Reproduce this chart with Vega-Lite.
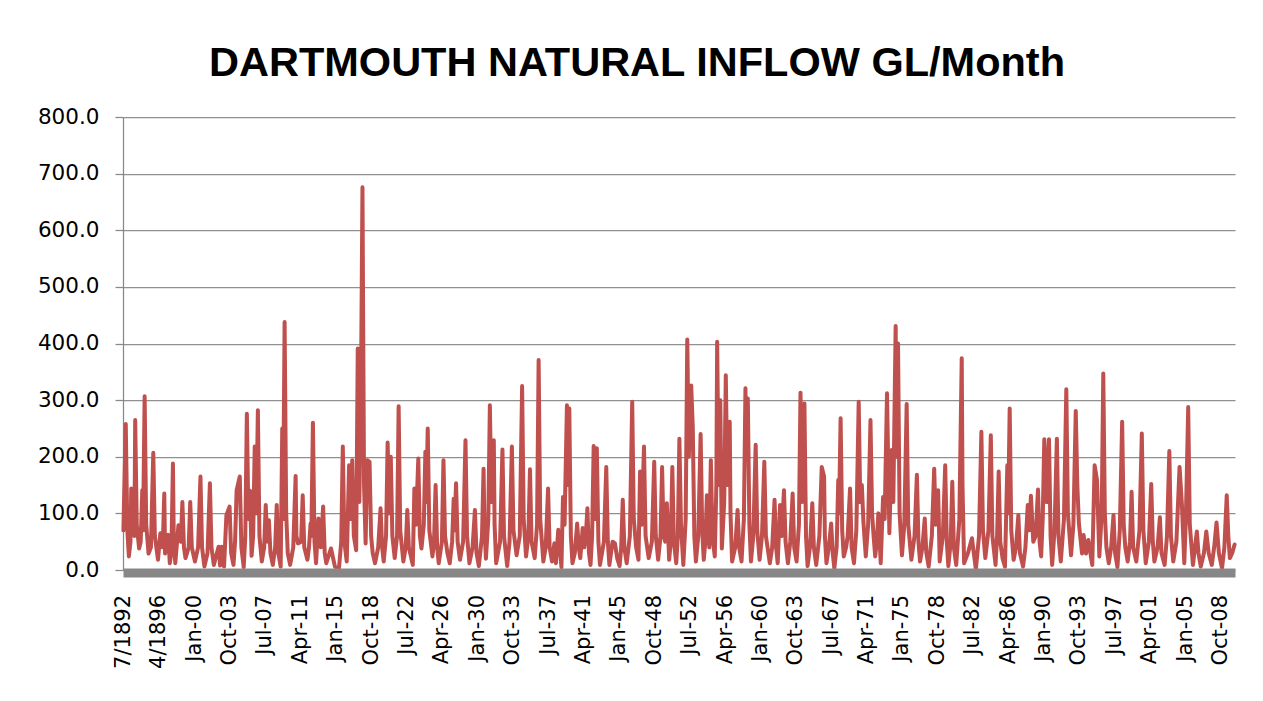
{
 "$schema": "https://vega.github.io/schema/vega-lite/v6.json",
 "width": 1112,
 "height": 453,
 "autosize": {"type": "none"},
 "padding": {"left": 123, "top": 117, "right": 28, "bottom": 131},
 "background": "white",
 "title": {"text": "DARTMOUTH NATURAL INFLOW GL/Month", "font": "Liberation Sans", "fontSize": 41.5, "fontWeight": "bold", "color": "black", "anchor": "middle", "frame": "bounds", "baseline": "alphabetic", "offset": 30, "dy": 41},
 "data": {"values": [
{"m":0,"v":70},{"m":3,"v":258},{"m":5,"v":70},{"m":7,"v":24},{"m":9,"v":50},{"m":10,"v":144},{"m":12,"v":76},{"m":14,"v":60},{"m":15,"v":265},{"m":17,"v":80},{"m":20,"v":38},{"m":22,"v":50},{"m":24,"v":141},{"m":25,"v":70},{"m":27,"v":307},{"m":29,"v":80},{"m":32,"v":29},{"m":35,"v":40},{"m":38,"v":207},{"m":40,"v":60},{"m":44,"v":18},{"m":47,"v":65},{"m":50,"v":40},{"m":52,"v":135},{"m":53,"v":29},{"m":57,"v":62},{"m":59,"v":12},{"m":61,"v":30},{"m":63,"v":188},{"m":64,"v":60},{"m":66,"v":12},{"m":70,"v":79},{"m":73,"v":50},{"m":75,"v":120},{"m":77,"v":40},{"m":79,"v":21},{"m":83,"v":40},{"m":85,"v":120},{"m":87,"v":40},{"m":91,"v":15},{"m":95,"v":40},{"m":98,"v":165},{"m":100,"v":40},{"m":103,"v":6},{"m":107,"v":30},{"m":110,"v":153},{"m":112,"v":40},{"m":115,"v":9},{"m":121,"v":41},{"m":123,"v":8},{"m":125,"v":41},{"m":128,"v":6},{"m":131,"v":97},{"m":135,"v":112},{"m":137,"v":30},{"m":140,"v":9},{"m":142,"v":50},{"m":144,"v":141},{"m":148,"v":165},{"m":150,"v":40},{"m":153,"v":5},{"m":155,"v":60},{"m":157,"v":276},{"m":159,"v":90},{"m":161,"v":140},{"m":163,"v":25},{"m":165,"v":60},{"m":167,"v":218},{"m":169,"v":100},{"m":171,"v":282},{"m":173,"v":60},{"m":176,"v":15},
{"m":179,"v":40},{"m":181,"v":115},{"m":183,"v":50},{"m":185,"v":88},{"m":187,"v":30},{"m":190,"v":9},{"m":193,"v":40},{"m":195,"v":115},{"m":197,"v":30},{"m":200,"v":6},{"m":202,"v":250},{"m":203,"v":90},{"m":205,"v":438},{"m":207,"v":100},{"m":209,"v":30},{"m":212,"v":9},{"m":216,"v":40},{"m":219,"v":166},{"m":220,"v":60},{"m":222,"v":47},{"m":226,"v":50},{"m":228,"v":132},{"m":230,"v":40},{"m":234,"v":18},{"m":236,"v":40},{"m":238,"v":82},{"m":239,"v":60},{"m":241,"v":260},{"m":243,"v":50},{"m":245,"v":12},{"m":248,"v":91},{"m":251,"v":40},{"m":254,"v":112},{"m":256,"v":30},{"m":258,"v":12},{"m":264,"v":38},{"m":269,"v":6},{"m":274,"v":1},{"m":277,"v":50},{"m":279,"v":218},{"m":281,"v":50},{"m":284,"v":15},{"m":287,"v":185},{"m":289,"v":90},{"m":291,"v":194},{"m":293,"v":60},{"m":296,"v":35},{"m":298,"v":391},{"m":300,"v":120},{"m":302,"v":300},{"m":304,"v":676},{"m":306,"v":150},{"m":308,"v":47},{"m":310,"v":194},{"m":313,"v":191},{"m":315,"v":60},{"m":317,"v":30},{"m":320,"v":12},{"m":324,"v":40},{"m":327,"v":109},{"m":329,"v":40},{"m":331,"v":15},{"m":334,"v":60},{"m":336,"v":225},{"m":338,"v":100},{"m":340,"v":200},{"m":342,"v":60},{"m":345,"v":21},{"m":348,"v":60},{"m":350,"v":289},{"m":352,"v":70},{"m":356,"v":15},
{"m":359,"v":40},{"m":361,"v":106},{"m":363,"v":40},{"m":368,"v":9},{"m":370,"v":144},{"m":372,"v":80},{"m":375,"v":197},{"m":377,"v":60},{"m":379,"v":38},{"m":382,"v":80},{"m":384,"v":209},{"m":385,"v":120},{"m":387,"v":250},{"m":389,"v":70},{"m":393,"v":24},{"m":395,"v":50},{"m":397,"v":150},{"m":399,"v":40},{"m":401,"v":12},{"m":405,"v":50},{"m":407,"v":194},{"m":409,"v":60},{"m":412,"v":30},{"m":415,"v":12},{"m":418,"v":50},{"m":420,"v":126},{"m":421,"v":70},{"m":423,"v":153},{"m":425,"v":50},{"m":428,"v":18},{"m":432,"v":50},{"m":435,"v":229},{"m":437,"v":60},{"m":440,"v":12},{"m":444,"v":40},{"m":447,"v":106},{"m":449,"v":30},{"m":452,"v":7},{"m":456,"v":60},{"m":458,"v":179},{"m":459,"v":80},{"m":461,"v":20},{"m":464,"v":90},{"m":466,"v":291},{"m":468,"v":120},{"m":471,"v":229},{"m":472,"v":80},{"m":474,"v":12},{"m":479,"v":50},{"m":482,"v":213},{"m":484,"v":60},{"m":488,"v":7},{"m":491,"v":50},{"m":494,"v":218},{"m":496,"v":70},{"m":500,"v":26},{"m":504,"v":60},{"m":507,"v":325},{"m":509,"v":90},{"m":512,"v":24},{"m":515,"v":60},{"m":517,"v":178},{"m":519,"v":50},{"m":523,"v":21},{"m":526,"v":80},{"m":528,"v":371},{"m":530,"v":90},{"m":534,"v":15},
{"m":537,"v":40},{"m":540,"v":144},{"m":542,"v":40},{"m":545,"v":15},{"m":548,"v":47},{"m":550,"v":12},{"m":553,"v":71},{"m":557,"v":5},{"m":559,"v":129},{"m":561,"v":80},{"m":564,"v":291},{"m":565,"v":150},{"m":567,"v":285},{"m":569,"v":60},{"m":571,"v":12},{"m":574,"v":30},{"m":577,"v":82},{"m":579,"v":40},{"m":581,"v":21},{"m":584,"v":74},{"m":586,"v":40},{"m":588,"v":60},{"m":590,"v":109},{"m":592,"v":30},{"m":594,"v":9},{"m":596,"v":60},{"m":598,"v":219},{"m":600,"v":90},{"m":602,"v":215},{"m":604,"v":50},{"m":606,"v":9},{"m":611,"v":50},{"m":614,"v":182},{"m":616,"v":50},{"m":618,"v":9},{"m":622,"v":50},{"m":625,"v":47},{"m":628,"v":20},{"m":631,"v":7},{"m":633,"v":40},{"m":635,"v":124},{"m":637,"v":40},{"m":640,"v":12},{"m":644,"v":60},{"m":647,"v":297},{"m":649,"v":90},{"m":652,"v":40},{"m":655,"v":18},{"m":657,"v":174},{"m":659,"v":80},{"m":662,"v":218},{"m":664,"v":60},{"m":668,"v":21},{"m":672,"v":50},{"m":675,"v":191},{"m":677,"v":60},{"m":680,"v":18},{"m":683,"v":60},{"m":685,"v":182},{"m":687,"v":60},{"m":689,"v":50},{"m":691,"v":118},{"m":694,"v":18},{"m":696,"v":50},{"m":698,"v":182},{"m":700,"v":50},{"m":703,"v":12},{"m":705,"v":60},{"m":707,"v":232},{"m":709,"v":80},
{"m":712,"v":9},{"m":715,"v":90},{"m":717,"v":407},{"m":719,"v":200},{"m":722,"v":326},{"m":724,"v":253},{"m":726,"v":60},{"m":728,"v":15},{"m":731,"v":60},{"m":734,"v":240},{"m":736,"v":70},{"m":738,"v":18},{"m":740,"v":50},{"m":742,"v":132},{"m":745,"v":40},{"m":747,"v":194},{"m":749,"v":60},{"m":752,"v":24},{"m":754,"v":150},{"m":755,"v":403},{"m":757,"v":150},{"m":759,"v":300},{"m":761,"v":38},{"m":764,"v":120},{"m":766,"v":344},{"m":768,"v":150},{"m":771,"v":262},{"m":772,"v":100},{"m":774,"v":15},{"m":778,"v":40},{"m":781,"v":106},{"m":783,"v":40},{"m":786,"v":15},{"m":789,"v":90},{"m":791,"v":321},{"m":792,"v":200},{"m":794,"v":303},{"m":796,"v":80},{"m":798,"v":15},{"m":801,"v":60},{"m":804,"v":221},{"m":806,"v":70},{"m":809,"v":18},{"m":812,"v":60},{"m":815,"v":191},{"m":817,"v":60},{"m":822,"v":12},{"m":825,"v":40},{"m":828,"v":124},{"m":830,"v":40},{"m":832,"v":12},{"m":835,"v":115},{"m":837,"v":60},{"m":840,"v":141},{"m":842,"v":50},{"m":845,"v":12},{"m":848,"v":50},{"m":851,"v":135},{"m":853,"v":40},{"m":856,"v":15},{"m":859,"v":80},{"m":861,"v":313},{"m":863,"v":120},{"m":866,"v":294},{"m":868,"v":60},{"m":870,"v":7},{"m":873,"v":40},{"m":876,"v":118},{"m":878,"v":40},{"m":881,"v":9},{"m":885,"v":60},{"m":888,"v":182},
{"m":891,"v":165},{"m":892,"v":60},{"m":894,"v":12},{"m":897,"v":40},{"m":900,"v":82},{"m":902,"v":30},{"m":904,"v":3},{"m":907,"v":41},{"m":909,"v":159},{"m":910,"v":100},{"m":912,"v":268},{"m":914,"v":70},{"m":916,"v":24},{"m":919,"v":40},{"m":921,"v":60},{"m":924,"v":144},{"m":926,"v":40},{"m":929,"v":12},{"m":932,"v":70},{"m":935,"v":297},{"m":937,"v":120},{"m":939,"v":150},{"m":941,"v":85},{"m":944,"v":24},{"m":947,"v":80},{"m":950,"v":265},{"m":952,"v":100},{"m":954,"v":59},{"m":956,"v":24},{"m":958,"v":50},{"m":960,"v":100},{"m":963,"v":12},{"m":966,"v":129},{"m":968,"v":90},{"m":971,"v":312},{"m":974,"v":65},{"m":977,"v":212},{"m":979,"v":120},{"m":982,"v":431},{"m":983,"v":200},{"m":985,"v":400},{"m":987,"v":100},{"m":990,"v":26},{"m":993,"v":80},{"m":996,"v":293},{"m":998,"v":80},{"m":1002,"v":18},{"m":1006,"v":60},{"m":1009,"v":168},{"m":1011,"v":50},{"m":1013,"v":15},{"m":1016,"v":40},{"m":1019,"v":91},{"m":1021,"v":30},{"m":1024,"v":6},{"m":1028,"v":60},{"m":1031,"v":179},{"m":1033,"v":80},{"m":1036,"v":141},{"m":1038,"v":15},{"m":1042,"v":60},{"m":1045,"v":185},{"m":1047,"v":50},{"m":1049,"v":7},{"m":1052,"v":50},{"m":1054,"v":156},{"m":1056,"v":40},{"m":1059,"v":9},{"m":1063,"v":90},{"m":1066,"v":374},{"m":1067,"v":150},
{"m":1069,"v":12},{"m":1074,"v":30},{"m":1079,"v":56},{"m":1084,"v":1},{"m":1088,"v":60},{"m":1091,"v":244},{"m":1093,"v":70},{"m":1096,"v":21},{"m":1100,"v":70},{"m":1103,"v":238},{"m":1105,"v":60},{"m":1109,"v":9},{"m":1111,"v":60},{"m":1113,"v":174},{"m":1115,"v":50},{"m":1118,"v":20},{"m":1121,"v":6},{"m":1124,"v":185},{"m":1125,"v":100},{"m":1127,"v":285},{"m":1129,"v":70},{"m":1132,"v":18},{"m":1135,"v":40},{"m":1138,"v":97},{"m":1140,"v":30},{"m":1144,"v":6},{"m":1147,"v":40},{"m":1150,"v":115},{"m":1152,"v":70},{"m":1154,"v":131},{"m":1157,"v":50},{"m":1160,"v":60},{"m":1163,"v":142},{"m":1165,"v":50},{"m":1167,"v":24},{"m":1169,"v":90},{"m":1171,"v":231},{"m":1174,"v":120},{"m":1177,"v":231},{"m":1179,"v":60},{"m":1181,"v":9},{"m":1184,"v":70},{"m":1187,"v":232},{"m":1189,"v":60},{"m":1192,"v":15},{"m":1196,"v":90},{"m":1199,"v":319},{"m":1201,"v":100},{"m":1205,"v":26},{"m":1208,"v":80},{"m":1211,"v":281},{"m":1213,"v":150},{"m":1215,"v":82},{"m":1219,"v":29},{"m":1221,"v":62},{"m":1224,"v":29},{"m":1227,"v":53},{"m":1232,"v":9},{"m":1235,"v":185},{"m":1238,"v":159},{"m":1241,"v":24},{"m":1244,"v":100},{"m":1246,"v":347},{"m":1248,"v":100},
{"m":1250,"v":40},{"m":1253,"v":12},{"m":1256,"v":40},{"m":1259,"v":97},{"m":1261,"v":30},{"m":1264,"v":5},{"m":1267,"v":70},{"m":1270,"v":262},{"m":1272,"v":80},{"m":1274,"v":40},{"m":1277,"v":15},{"m":1280,"v":50},{"m":1282,"v":138},{"m":1284,"v":40},{"m":1288,"v":15},{"m":1292,"v":70},{"m":1295,"v":241},{"m":1297,"v":70},{"m":1300,"v":12},{"m":1304,"v":50},{"m":1307,"v":152},{"m":1309,"v":50},{"m":1311,"v":15},{"m":1315,"v":40},{"m":1318,"v":93},{"m":1320,"v":30},{"m":1324,"v":9},{"m":1327,"v":60},{"m":1330,"v":210},{"m":1332,"v":60},{"m":1335,"v":15},{"m":1339,"v":50},{"m":1343,"v":182},{"m":1346,"v":115},{"m":1349,"v":12},{"m":1351,"v":90},{"m":1354,"v":288},{"m":1356,"v":80},{"m":1360,"v":9},{"m":1365,"v":68},{"m":1367,"v":30},{"m":1370,"v":6},{"m":1374,"v":30},{"m":1377,"v":68},{"m":1380,"v":30},{"m":1384,"v":9},{"m":1387,"v":40},{"m":1390,"v":84},{"m":1393,"v":30},{"m":1397,"v":3},{"m":1400,"v":40},{"m":1403,"v":132},{"m":1405,"v":60},{"m":1407,"v":21},{"m":1410,"v":30},{"m":1413,"v":45}
 ]},
 "mark": {"type": "line", "color": "#C0504D", "strokeWidth": 4, "strokeJoin": "round", "strokeCap": "round"},
 "encoding": {
  "x": {"field": "m", "type": "quantitative",
   "scale": {"domain": [-0.5, 1413.5], "nice": false, "zero": false},
   "axis": {"values": [0,45,90,135,180,225,270,315,360,405,450,495,540,585,630,675,720,765,810,855,900,945,990,1035,1080,1125,1170,1215,1260,1305,1350,1395],
    "labelExpr": "['7/1892','4/1896','Jan-00','Oct-03','Jul-07','Apr-11','Jan-15','Oct-18','Jul-22','Apr-26','Jan-30','Oct-33','Jul-37','Apr-41','Jan-45','Oct-48','Jul-52','Apr-56','Jan-60','Oct-63','Jul-67','Apr-71','Jan-75','Oct-78','Jul-82','Apr-86','Jan-90','Oct-93','Jul-97','Apr-01','Jan-05','Oct-08'][round(datum.value/45)]",
    "labelAngle": 270, "labelFont": "DejaVu Sans", "labelFontSize": 21, "labelColor": "black",
    "ticks": false, "tickSize": 0, "domainColor": "#878787", "domainWidth": 9, "offset": 2.5,
    "labelPadding": 22, "grid": false, "title": null, "zindex": 1,
    "labelOverlap": false, "labelFlush": false, "labelBound": false}},
  "y": {"field": "v", "type": "quantitative",
   "scale": {"domain": [0, 800], "nice": false},
   "axis": {"values": [0,100,200,300,400,500,600,700,800], "format": ".1f",
    "labelFont": "DejaVu Sans", "labelFontSize": 21.5, "labelColor": "black",
    "tickSize": 8, "tickColor": "#888888", "tickWidth": 1.25,
    "domainColor": "#888888", "domainWidth": 1.25,
    "gridColor": "#909090", "gridWidth": 1.25, "labelPadding": 16, "title": null}}
 },
 "config": {"view": {"stroke": null}}
}
